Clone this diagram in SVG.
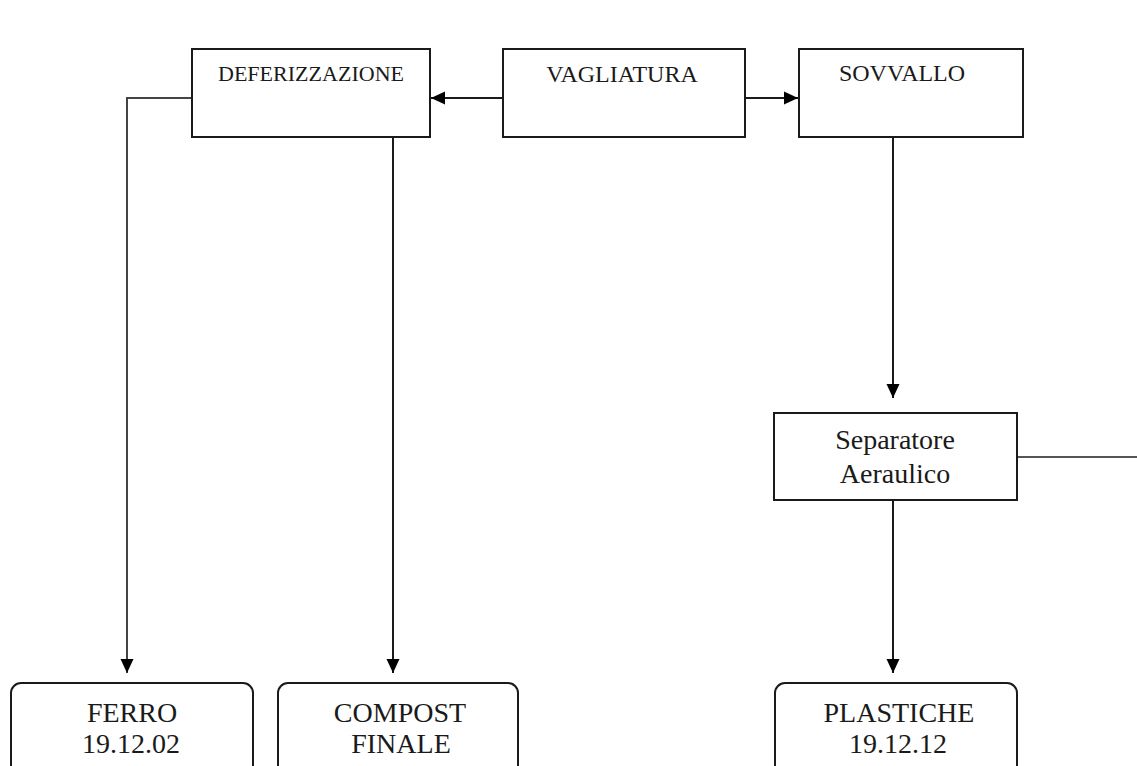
<svg xmlns="http://www.w3.org/2000/svg" width="1137" height="766" viewBox="0 0 1137 766">
<style>
.box{fill:#fff;stroke:#1a1a1a;stroke-width:2}
.t{font-family:"Liberation Serif","Times New Roman",serif;fill:#1a1a1a;text-anchor:middle}
.c{fill:none;stroke:#1a1a1a;stroke-width:2}
</style>
<defs>
<marker id="ah" viewBox="0 0 14 14" refX="14" refY="7" markerWidth="14" markerHeight="14" markerUnits="userSpaceOnUse" orient="auto">
<path d="M0,0.5 L14,7 L0,13.5 Z" fill="#000"/>
</marker>
</defs>
<rect width="1137" height="766" fill="#fff"/>
<g id="connectors">
<path class="c" d="M503,98 H431" marker-end="url(#ah)"/>
<path class="c" d="M745,98 H798" marker-end="url(#ah)"/>
<path class="c" d="M192,98 H127 V673" marker-end="url(#ah)" style="stroke:#444"/>
<path class="c" d="M393,137 V673" marker-end="url(#ah)"/>
<path class="c" d="M893,137 V398" marker-end="url(#ah)"/>
<path class="c" d="M893,500 V673" marker-end="url(#ah)"/>
<path class="c" d="M1017,457 H1137" style="stroke:#555"/>
</g>
<g id="deferizzazione">
<rect class="box" x="192" y="49" width="238" height="88"/>
<text class="t" x="311" y="81" font-size="22" textLength="186" lengthAdjust="spacingAndGlyphs">DEFERIZZAZIONE</text>
</g>
<g id="vagliatura">
<rect class="box" x="503" y="49" width="242" height="88"/>
<text class="t" x="622" y="82" font-size="24">VAGLIATURA</text>
</g>
<g id="sovvallo">
<rect class="box" x="799" y="49" width="224" height="88"/>
<text class="t" x="902" y="81" font-size="24">SOVVALLO</text>
</g>
<g id="separatore">
<rect class="box" x="774" y="413" width="243" height="87"/>
<text class="t" x="895" y="449" font-size="28">Separatore</text>
<text class="t" x="895" y="483" font-size="28">Aeraulico</text>
</g>
<g id="ferro">
<rect class="box" x="11" y="683" width="242" height="110" rx="10"/>
<text class="t" x="132" y="722" font-size="28">FERRO</text>
<text class="t" x="131" y="753" font-size="28">19.12.02</text>
</g>
<g id="compost">
<rect class="box" x="278" y="683" width="240" height="110" rx="10"/>
<text class="t" x="400" y="722" font-size="28">COMPOST</text>
<text class="t" x="401" y="753" font-size="28">FINALE</text>
</g>
<g id="plastiche">
<rect class="box" x="775" y="683" width="242" height="110" rx="10"/>
<text class="t" x="899" y="722" font-size="28">PLASTICHE</text>
<text class="t" x="898" y="753" font-size="28">19.12.12</text>
</g>
</svg>
